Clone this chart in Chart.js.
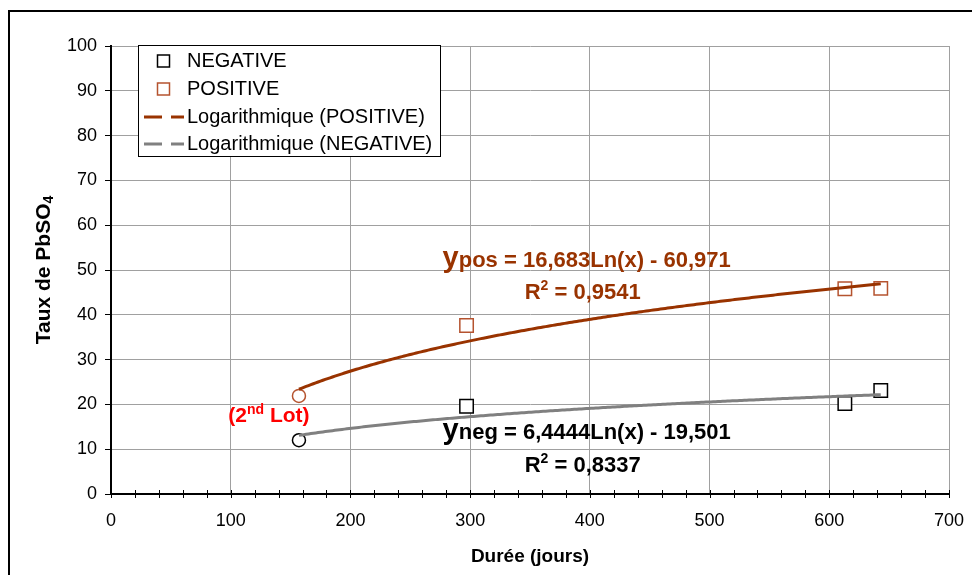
<!DOCTYPE html>
<html>
<head>
<meta charset="utf-8">
<script src="https://cdn.jsdelivr.net/npm/chart.js@4.4.0/dist/chart.umd.min.js"></script>
<style>
    body { margin: 0; background: #fff; }
    canvas { display: block; }
</style>
</head>
<body>
<canvas id="pbChart" width="972" height="575"></canvas>
<script>
// durée (jours) des mesures
const days = [157, 297, 613, 643];
const negative = [12.0, 19.6, 20.2, 23.1];
const positive = [21.9, 37.6, 45.8, 45.9];
// le 1er point = 2nd lot (rond), les autres en carré
const markers = ['circle', 'rect', 'rect', 'rect'];

// tendances logarithmiques (Excel) : a*Ln(x) + b
const posFit = [16.683, -60.971];
const negFit = [6.4444, -19.501];
const posLabel = ['16,683', '60,971', '0,9541'];
const negLabel = ['6,4444', '19,501', '0,8337'];

// axes
const xAxis = [0, 700, 100];
const yAxis = [0, 100, 10];
const xMinorStep = 20;

const FONT = '"Liberation Sans", Arial, sans-serif';
const BROWN = '#993300';
const BROWN_PT = '#b5532f';
const GREY = '#808080';

Chart.defaults.font.family = FONT;
Chart.defaults.color = '#000';

function trend(fit) {
    const pts = [];
    const x0 = Math.min(...days), x1 = Math.max(...days);
    for (let x = x0; x <= x1; x += 2) {
        pts.push({ x: x, y: fit[0] * Math.log(x) + fit[1] });
    }
    return pts;
}

// texte riche (indices / exposants)
function drawRuns(ctx, parts, x, y, align, color) {
    let w = 0;
    parts.forEach(p => {
        ctx.font = 'bold ' + p.s + 'px ' + FONT;
        p.w = ctx.measureText(p.t).width;
        w += p.w;
    });
    let cx = align === 'center' ? x - w / 2 : x;
    ctx.fillStyle = color;
    ctx.textAlign = 'left';
    ctx.textBaseline = 'alphabetic';
    parts.forEach(p => {
        ctx.font = 'bold ' + p.s + 'px ' + FONT;
        ctx.fillText(p.t, cx, y - (p.up || 0));
        cx += p.w;
    });
}

const extras = {
    id: 'extras',
    afterDraw(chart) {
        const ctx = chart.ctx;
        const xs = chart.scales.x, ys = chart.scales.y;
        const area = chart.chartArea;
        ctx.save();

        // petites graduations de l'axe x (traversantes)
        ctx.strokeStyle = '#000';
        ctx.lineWidth = 1;
        for (let v = xs.min; v <= xs.max; v += xMinorStep) {
            const px = Math.round(xs.getPixelForValue(v)) + 0.5;
            ctx.beginPath();
            ctx.moveTo(px, area.bottom - 4);
            ctx.lineTo(px, area.bottom + 4);
            ctx.stroke();
        }

        // titre axe y avec indice
        ctx.save();
        ctx.translate(44, (area.top + area.bottom) / 2);
        ctx.rotate(-Math.PI / 2);
        ctx.font = 'bold 21px ' + FONT;
        const t1 = 'Taux de PbSO';
        const w1 = ctx.measureText(t1).width;
        ctx.font = 'bold 14px ' + FONT;
        const w2 = ctx.measureText('4').width;
        const sx = -(w1 + w2) / 2;
        ctx.fillStyle = '#000';
        ctx.textBaseline = 'middle';
        ctx.textAlign = 'left';
        ctx.font = 'bold 21px ' + FONT;
        ctx.fillText(t1, sx, 0);
        ctx.font = 'bold 14px ' + FONT;
        ctx.fillText('4', sx + w1, 5);
        ctx.restore();

        // équations
        const X = v => xs.getPixelForValue(v);
        const Y = v => ys.getPixelForValue(v);
        drawRuns(ctx, [
            { t: 'y', s: 29 }, { t: 'pos', s: 22 },
            { t: ' = ' + posLabel[0] + 'Ln(x) - ' + posLabel[1], s: 22 }
        ], X(277), Y(50.7), 'left', BROWN);
        drawRuns(ctx, [
            { t: 'R', s: 22 }, { t: '2', s: 14, up: 9 }, { t: ' = ' + posLabel[2], s: 22 }
        ], X(394), Y(43.5), 'center', BROWN);
        drawRuns(ctx, [
            { t: 'y', s: 29 }, { t: 'neg', s: 22 },
            { t: ' = ' + negLabel[0] + 'Ln(x) - ' + negLabel[1], s: 22 }
        ], X(277), Y(12.2), 'left', '#000');
        drawRuns(ctx, [
            { t: 'R', s: 22 }, { t: '2', s: 14, up: 9 }, { t: ' = ' + negLabel[2], s: 22 }
        ], X(394), Y(5.0), 'center', '#000');
        drawRuns(ctx, [
            { t: '(2', s: 21 }, { t: 'nd', s: 14, up: 8 }, { t: ' Lot)', s: 21 }
        ], X(98), Y(16.1), 'left', '#ff0000');

        // légende
        const lx = 138.5, ly = 45.5, lw = 302, lh = 111;
        ctx.fillStyle = '#fff';
        ctx.fillRect(lx, ly, lw, lh);
        ctx.strokeStyle = '#000';
        ctx.lineWidth = 1;
        ctx.strokeRect(lx, ly, lw, lh);
        const rows = [61, 89, 117, 144];
        chart.data.datasets.forEach((ds, i) => {
            const ry = rows[i];
            if (ds.showLine) {
                ctx.strokeStyle = ds.borderColor;
                ctx.lineWidth = 3;
                ctx.beginPath();
                ctx.moveTo(144, ry); ctx.lineTo(162, ry);
                ctx.moveTo(171, ry); ctx.lineTo(184, ry);
                ctx.stroke();
            } else {
                ctx.strokeStyle = ds.borderColor;
                ctx.lineWidth = 1.5;
                ctx.strokeRect(157.5, ry - 6, 12, 12);
            }
            ctx.fillStyle = '#000';
            ctx.font = '20px ' + FONT;
            ctx.textAlign = 'left';
            ctx.textBaseline = 'middle';
            ctx.fillText(ds.label, 187, ry);
        });

        // cadre extérieur
        ctx.strokeStyle = '#000';
        ctx.lineWidth = 2;
        ctx.strokeRect(9, 11, 1000, 700);
        ctx.restore();
    }
};

new Chart(document.getElementById('pbChart'), {
    type: 'scatter',
    data: {
        datasets: [{
            label: 'NEGATIVE',
            data: days.map((d, i) => ({ x: d, y: negative[i] })),
            pointStyle: markers,
            pointRadius: markers.map(m => m === 'circle' ? 6.5 : 9.5),
            borderColor: '#000',
            pointBorderWidth: 1.5,
            backgroundColor: '#fff',
            showLine: false,
            order: 2
        }, {
            label: 'POSITIVE',
            data: days.map((d, i) => ({ x: d, y: positive[i] })),
            pointStyle: markers,
            pointRadius: markers.map(m => m === 'circle' ? 6.5 : 9.5),
            borderColor: BROWN_PT,
            pointBorderWidth: 1.5,
            backgroundColor: '#fff',
            showLine: false,
            order: 2
        }, {
            label: 'Logarithmique (POSITIVE)',
            data: trend(posFit),
            showLine: true,
            borderColor: BROWN,
            borderWidth: 3,
            pointRadius: 0,
            order: 1
        }, {
            label: 'Logarithmique (NEGATIVE)',
            data: trend(negFit),
            showLine: true,
            borderColor: GREY,
            borderWidth: 3,
            pointRadius: 0,
            order: 1
        }]
    },
    options: {
        responsive: false,
        animation: false,
        layout: { padding: { top: 46, right: 23, left: 0, bottom: 0 } },
        plugins: {
            legend: { display: false },
            tooltip: { enabled: false }
        },
        scales: {
            x: {
                type: 'linear',
                min: xAxis[0],
                max: xAxis[1],
                ticks: { stepSize: xAxis[2], font: { size: 18 }, padding: 16, maxRotation: 0 },
                grid: {
                    color: c => c.tick && c.tick.value === 0 ? 'transparent' : '#a0a0a0',
                    drawTicks: false
                },
                border: { color: '#000', width: 2 },
                title: {
                    display: true,
                    text: 'Durée (jours)',
                    font: { size: 19, weight: 'bold' },
                    padding: { top: 0, bottom: 7 }
                },
                afterFit: s => { s.height = 81; s.paddingLeft = 0; s.paddingRight = 0; }
            },
            y: {
                min: yAxis[0],
                max: yAxis[1],
                ticks: { stepSize: yAxis[2], font: { size: 18 }, padding: 8 },
                grid: {
                    color: c => c.tick && c.tick.value === 0 ? 'transparent' : '#a0a0a0',
                    tickColor: '#000',
                    tickLength: 6
                },
                border: { color: '#000', width: 2 },
                afterFit: s => { s.width = 111; s.paddingTop = 0; s.paddingBottom = 0; }
            }
        }
    },
    plugins: [extras]
});
</script>
</body>
</html>
